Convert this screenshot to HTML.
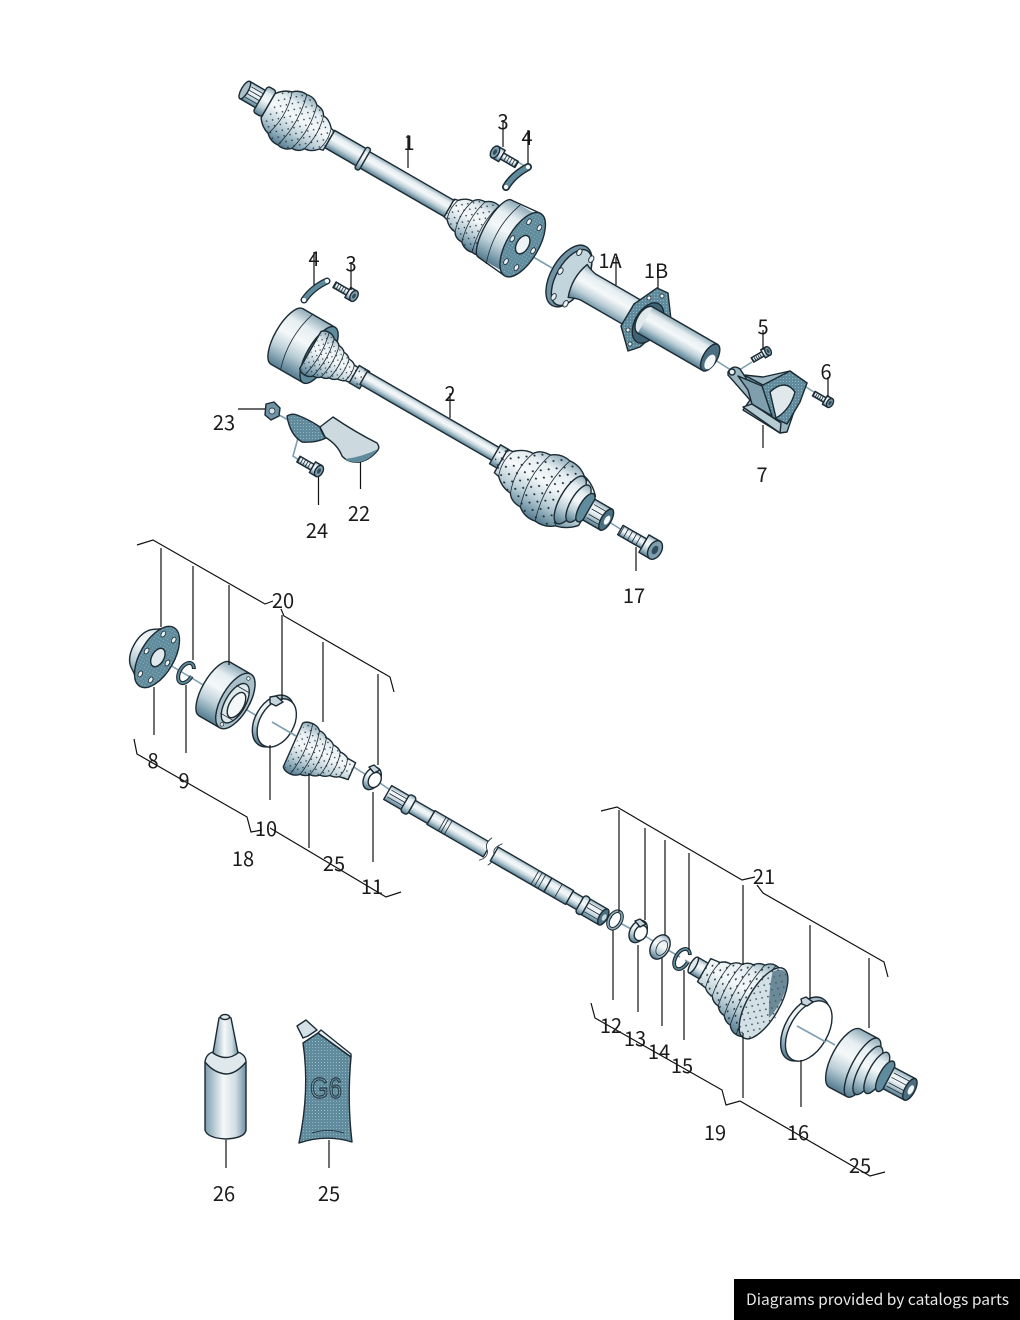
<!DOCTYPE html>
<html><head><meta charset="utf-8"><title>Drive shaft diagram</title>
<style>
html,body{margin:0;padding:0;background:#fff;width:1020px;height:1320px;overflow:hidden}
svg{display:block}
.o{stroke:#1b2a33;stroke-width:1.4;stroke-linejoin:round;vector-effect:non-scaling-stroke}
.r{stroke:#1b2a33;stroke-width:.8;fill:none;vector-effect:non-scaling-stroke}
.l{stroke:#111;stroke-width:1.2;fill:none}
.a{stroke:#7d9fb1;stroke-width:1.6;fill:none}
.t{font-family:"Noto Sans CJK JP","Liberation Sans",sans-serif;font-size:20px;fill:#1a1a1a;text-anchor:middle}
</style></head><body>
<svg width="1020" height="1320" viewBox="0 0 1020 1320" xmlns="http://www.w3.org/2000/svg">
<defs>
<linearGradient id="g" x1="0" y1="0" x2="0" y2="1"><stop offset="0" stop-color="#8fabb8"/><stop offset=".22" stop-color="#e6eef1"/><stop offset=".45" stop-color="#f5f8f9"/><stop offset=".7" stop-color="#bdd0d8"/><stop offset=".9" stop-color="#7598a9"/><stop offset="1" stop-color="#567b8c"/></linearGradient>
<linearGradient id="h" x1="0" y1="0" x2="1" y2="0"><stop offset="0" stop-color="#7c9dae"/><stop offset=".45" stop-color="#f5f8f9"/><stop offset=".75" stop-color="#cfdde3"/><stop offset="1" stop-color="#6d90a2"/></linearGradient>
<pattern id="d" width="9" height="8" patternUnits="userSpaceOnUse"><circle cx="2" cy="2" r=".8" fill="#1c2e38"/><circle cx="6.5" cy="6" r=".8" fill="#1c2e38"/></pattern>
<pattern id="s" width="3" height="3" patternUnits="userSpaceOnUse"><rect width="3" height="3" fill="#5f8b9c"/><rect width="1" height="1" fill="#94b5c1"/></pattern>
<g id="boot">
<path class="o" fill="url(#g)" d="M0,-14 Q6,-22 14,-24 Q20,-30 28,-29 Q36,-31 42,-25 Q50,-25 53,-19 Q60,-19 66,-12 L70,-11 L70,11 L66,12 Q60,19 53,19 Q50,25 42,25 Q36,31 28,29 Q20,30 14,24 Q6,22 0,14 Z"/>
<path fill="url(#d)" d="M4,-18 Q14,-28 28,-29 Q42,-28 53,-19 Q64,-15 70,-11 L70,11 Q60,18 53,19 Q42,28 28,29 Q14,28 4,18 Z"/>
<path class="r" d="M14,-24 Q22,0 14,24 M28,-29 Q36,0 28,29 M42,-25 Q49,0 42,25 M53,-19 Q59,0 53,19 M66,-12 Q70,0 66,12"/>
</g>
<g id="cone">
<path class="o" fill="url(#g)" d="M0,-26 Q3,-30 10,-30 Q16,-30 20,-26 Q26,-26 30,-22 Q36,-22 40,-18 Q46,-18 50,-14 Q56,-14 60,-11 L70,-10 L70,10 L60,11 Q56,14 50,14 Q46,18 40,18 Q36,22 30,22 Q26,26 20,26 Q16,30 10,30 Q3,30 0,26 Z"/>
<path fill="url(#d)" d="M2,-28 L20,-26 L40,-18 L70,-10 L70,10 L40,18 L20,26 L2,28 Z"/>
<path class="r" d="M10,-30 Q18,0 10,30 M20,-26 Q27,0 20,26 M30,-22 Q36,0 30,22 M40,-18 Q45,0 40,18 M50,-14 Q54,0 50,14 M60,-11 Q64,0 60,11"/>
</g>
<g id="bolt">
<rect class="o" x="8" y="-3.5" width="17" height="7" fill="url(#g)"/>
<path class="r" d="M12,-3.5 V3.5 M15,-3.5 V3.5 M18,-3.5 V3.5 M21,-3.5 V3.5 M24,-3.5 V3.5"/>
<rect class="o" x="0" y="-6.5" width="8" height="13" fill="url(#g)"/>
<ellipse class="o" cx="0" cy="0" rx="4" ry="6.5" fill="#7f9fae"/>
<ellipse cx="0" cy="0" rx="1.8" ry="3" fill="#2f4d5b"/>
</g>
<g id="holes" fill="#e8f0f2" stroke="#1b2a33" stroke-width=".8">
<ellipse cx="12" cy="0" rx="2" ry="3.2"/><ellipse cx="6" cy="23" rx="2" ry="3.2"/><ellipse cx="-6" cy="23" rx="2" ry="3.2"/><ellipse cx="-12" cy="0" rx="2" ry="3.2"/><ellipse cx="-6" cy="-23" rx="2" ry="3.2"/><ellipse cx="6" cy="-23" rx="2" ry="3.2"/>
</g>
</defs>
<rect width="1020" height="1320" fill="#fff"/>

<!-- axis lines -->
<path class="a" d="M508,156 L528,168 M530,255 L552,268 M712,358 L737,374 M752,362 L733,374 M803,385 L820,396 M270,410 L292,422 M298,438 L293,456 L308,466 M606,520 L622,530"/>
<path class="a" d="M170,665 L205,686 M225,697 L262,719 M272,722 L296,736 M352,766 L368,776 M380,783 L390,790 M600,912 L612,918 M620,923 L635,931 M645,936 L658,944 M668,950 L680,957 M685,960 L695,966 M755,1005 L776,1018 M800,1025 L835,1045"/>

<!-- shaft 1 -->
<g transform="translate(250,93) rotate(30)">
<rect class="o" x="-6" y="-10" width="20" height="20" fill="url(#g)"/>
<ellipse class="o" cx="-6" cy="0" rx="3.5" ry="10" fill="#a9c0ca"/>
<path class="r" d="M-2,-6 H14 M-2,-2 H14 M-2,2 H14 M-2,6 H14"/>
<rect class="o" x="12" y="-15" width="10" height="30" rx="3" fill="url(#g)"/>
<rect class="o" x="92" y="-10" width="40" height="20" fill="url(#g)"/>
<rect class="o" x="132" y="-9" width="106" height="19" fill="url(#g)"/>
<rect class="o" x="128" y="-12" width="5" height="25" rx="2" fill="url(#g)"/>
<use href="#boot" transform="translate(22,2)"/>
<use href="#boot" transform="translate(300,0) scale(-1,.93)"/>
<ellipse class="o" cx="280" cy="-5" rx="10" ry="33" fill="url(#g)"/>
<rect x="280" y="-38" width="32" height="66" fill="url(#g)"/>
<path class="o" fill="none" d="M280,-38 L312,-41 M280,28 L312,31"/>
<path class="r" d="M290,-38 Q278,-5 290,30"/>
<ellipse class="o" cx="312" cy="-5" rx="16" ry="36" fill="url(#s)"/>
<use href="#holes" transform="translate(312,-5)"/>
<ellipse class="o" cx="312" cy="-5" rx="6" ry="10" fill="#eef4f6"/>
</g>

<!-- 1A 1B -->
<g transform="translate(569,276) rotate(30)">
<ellipse class="o" cx="0" cy="0" rx="18" ry="34" fill="#6f93a5"/>
<ellipse class="o" cx="3" cy="0" rx="15" ry="31" fill="#c3d5dc"/>
<use href="#holes" transform="translate(4,0) scale(1.15,1.12)"/>
<path class="o" fill="url(#g)" d="M10,-19 Q16,-16 22,-15 L90,-15 L90,15 L22,15 Q16,16 10,19 Q3,0 10,-19Z"/>
</g>
<path class="o" fill="url(#s)" d="M657,288 L668,293 L671,320 L640,347 L628,351 L621,326 L634,304 Z"/>
<ellipse class="o" cx="648" cy="323" rx="13" ry="22" fill="#3f6475" transform="rotate(30 648 323)"/>
<g fill="#e8f0f2" stroke="#1b2a33" stroke-width=".8"><circle cx="649" cy="298" r="2"/><circle cx="662" cy="296" r="2"/><circle cx="628" cy="330" r="2"/><circle cx="630" cy="344" r="2"/></g>
<g transform="translate(569,276) rotate(30)">
<ellipse class="o" cx="88" cy="0" rx="8" ry="15" fill="#dfe9ec"/>
<rect x="88" y="-15" width="75" height="30" fill="url(#g)"/>
<path class="o" fill="none" d="M88,-15 H163 M88,15 H163"/>
<ellipse class="o" cx="163" cy="0" rx="7" ry="15" fill="#4a6f80"/>
<ellipse cx="165" cy="4" rx="4.5" ry="8" fill="#f4f8f9"/>
</g>

<!-- bracket 7 -->
<path class="o" fill="#9ab4c0" d="M728,372 Q733,364 740,369 L744,375 L763,377 L790,371 L807,383 L798,400 L787,432 L780,433 L743,410 L750,400 L728,375 Z"/>
<path class="o" fill="url(#s)" d="M744,375 L763,385 L790,371 L807,383 L800,402 L787,424 L770,416 Z"/>
<path class="o" fill="#dfe9ec" d="M770,392 L776,418 Q790,410 795,392 Q785,378 770,392 Z"/>
<path class="o" fill="#b7cbd3" d="M743,407 L752,404 L781,423 L780,433 Z"/>
<path class="o" fill="#7f9fae" d="M738,376 L762,386 L772,416 L752,404 L748,390 Z"/>
<circle class="o" cx="732" cy="372" r="3" fill="#e8f0f2"/>

<!-- shaft 2 -->
<g transform="translate(300,344) rotate(30)">
<ellipse class="o" cx="-15" cy="0" rx="12" ry="32" fill="url(#g)"/>
<rect x="-15" y="-32" width="37" height="64" fill="url(#g)"/>
<path class="o" fill="none" d="M-15,-32 H22 M-15,32 H22"/>
<path class="r" d="M-4,-32 Q-14,0 -4,32"/>
<ellipse class="o" cx="22" cy="0" rx="12" ry="32" fill="#5f8b9c"/>
<g transform="translate(12,0) scale(.76,.82)"><use href="#cone"/></g>
<rect class="o" x="62" y="-11" width="12" height="20" fill="url(#g)"/>
<rect fill="url(#d)" x="62" y="-11" width="12" height="20"/>
<rect class="o" x="72" y="-10" width="155" height="15" fill="url(#g)"/>
<rect class="o" x="224" y="-13" width="10" height="22" fill="url(#g)"/>
<rect fill="url(#d)" x="224" y="-13" width="10" height="22"/>
<use href="#boot" transform="translate(332,1) scale(-1.42,1.2)"/>
<ellipse class="o" cx="312" cy="0" rx="10" ry="27" fill="url(#g)"/>
<ellipse class="o" cx="321" cy="-1" rx="8" ry="21" fill="url(#g)"/>
<ellipse class="o" cx="329" cy="-1" rx="6" ry="16" fill="#5f8b9c"/>
<rect class="o" x="333" y="-13" width="20" height="24" fill="url(#g)"/>
<path class="r" d="M335,-8 H353 M335,-3 H353 M335,3 H353 M335,7 H353"/>
<ellipse class="o" cx="353" cy="-1" rx="5" ry="12" fill="#4a6f80"/>
<ellipse cx="354" cy="-1" rx="2.5" ry="5" fill="#f4f8f9"/>
</g>

<!-- bolts -->
<use href="#bolt" transform="translate(495,152) rotate(30)"/>
<use href="#bolt" transform="translate(354,296) rotate(30) scale(-.9,.9)"/>
<use href="#bolt" transform="translate(768,351) rotate(-30) scale(-.72,.72)"/>
<use href="#bolt" transform="translate(830,403) rotate(30) scale(-.75,.75)"/>
<use href="#bolt" transform="translate(655,550) rotate(30) scale(-1.6,1.55)"/>
<use href="#bolt" transform="translate(319,471) rotate(30) scale(-.95,.95)"/>

<!-- straps -->
<path d="M506,187 Q513,175 528,167" fill="none" stroke="#1b2a33" stroke-width="8" stroke-linecap="round"/>
<path d="M506,187 Q513,175 528,167" fill="none" stroke="#5f8b9c" stroke-width="5" stroke-linecap="round"/>
<path d="M304,300 Q312,288 327,281" fill="none" stroke="#1b2a33" stroke-width="7" stroke-linecap="round"/>
<path d="M304,300 Q312,288 327,281" fill="none" stroke="#5f8b9c" stroke-width="4.5" stroke-linecap="round"/>
<circle cx="506" cy="187" r="2" fill="#fff"/><circle cx="528" cy="167" r="2" fill="#fff"/><circle cx="304" cy="300" r="2" fill="#fff"/><circle cx="327" cy="281" r="2" fill="#fff"/>

<!-- nut 23 -->
<path class="o" fill="#6f93a5" d="M266,404 L274,402 L280,408 L279,416 L271,420 L265,415 Z"/>
<circle cx="272" cy="411" r="3" fill="#d3e0e5" stroke="#1b2a33" stroke-width=".7"/>

<!-- shield 22 -->
<path class="o" fill="url(#s)" d="M287,416 Q292,413 297,415 Q310,420 320,427 Q322,434 326,438 Q316,443 302,442 Q290,435 287,416Z"/>
<path class="o" fill="#ccdae0" d="M320,427 L333,417 Q355,432 377,443 Q380,447 378,450 Q370,460 360,462 Q348,463 342,456 Q338,445 325,437 Z"/>
<path fill="#5f8b9c" d="M345,459 Q362,457 378,449 Q370,460 360,462 Q350,463 345,459Z"/>

<!-- hub 8 -->
<g transform="translate(157,657) rotate(30)">
<path class="o" fill="url(#g)" d="M0,-34 L-14,-24 Q-26,-18 -26,0 Q-26,18 -14,24 L0,34 Z"/>
<ellipse class="o" cx="0" cy="0" rx="17" ry="34" fill="url(#s)"/>
<use href="#holes"/>
<ellipse class="o" cx="1" cy="0" rx="6" ry="10" fill="#dfe9ec"/>
</g>
<!-- circlip 9 -->
<g transform="translate(186,673) rotate(30)"><ellipse cx="0" cy="0" rx="6.5" ry="11" fill="none" stroke="#1b2a33" stroke-width="4" stroke-dasharray="48 8"/><ellipse cx="0" cy="0" rx="6.5" ry="11" fill="none" stroke="#5f8b9c" stroke-width="1.8" stroke-dasharray="47 9"/></g>
<!-- joint 10 -->
<g transform="translate(225,695) rotate(30)">
<ellipse class="o" cx="-12" cy="0" rx="12" ry="31" fill="url(#g)"/>
<rect x="-12" y="-31" width="24" height="62" fill="url(#g)"/>
<path class="o" fill="none" d="M-12,-31 H12 M-12,31 H12"/>
<ellipse class="o" cx="12" cy="0" rx="14" ry="31" fill="#a9c0ca"/>
<ellipse class="o" cx="13" cy="2" rx="10" ry="22" fill="#dfe9ec"/>
<ellipse class="o" cx="15" cy="3" rx="7" ry="14" fill="#f4f8f9"/>
<path class="r" d="M5,-14 H20 M5,18 H20"/>
<g fill="#e8f0f2" stroke="#1b2a33" stroke-width=".7"><circle cx="12" cy="-26" r="1.8"/><circle cx="12" cy="27" r="1.8"/></g>
</g>
<!-- clamp 10 -->
<g transform="translate(275,722) rotate(30)">
<ellipse class="o" cx="-2" cy="0" rx="18" ry="28" fill="url(#g)"/>
<ellipse class="o" cx="2" cy="0" rx="17" ry="26" fill="#fff"/>
</g>
<path class="o" fill="#c7d6dc" d="M270,697 L276,696 L283,702 L276,706 L270,703 Z"/>
<path class="a" d="M272,722 L296,736"/>
<!-- boot 25 left -->
<g transform="translate(293,745) rotate(24)"><use href="#cone" transform="scale(.92,.92)"/></g>
<!-- clamp 11 -->
<g transform="translate(373,779) rotate(30)">
<ellipse class="o" cx="-1" cy="0" rx="8" ry="12" fill="url(#g)"/>
<ellipse class="o" cx="2" cy="0" rx="6" ry="8" fill="#fff"/>
</g>
<path class="o" fill="#c7d6dc" d="M369,767 L374,765 L380,770 L374,773 Z"/>

<!-- middle shaft -->
<g transform="translate(392,795) rotate(30)">
<rect class="o" x="-5" y="-8" width="22" height="16" fill="url(#g)"/>
<path class="r" d="M-3,-4 H16 M-3,0 H16 M-3,4 H16"/>
<rect class="o" x="15" y="-10" width="8" height="20" rx="3" fill="url(#g)"/>
<rect class="o" x="23" y="-7" width="22" height="14" fill="url(#g)"/>
<rect class="o" x="45" y="-8" width="65" height="16" fill="url(#g)"/>
<path class="r" d="M58,-8 V8 M61,-8 V8 M65,-8 V8"/>
<path d="M108,-13 Q104,-4 110,0 Q115,6 108,13 L118,13 Q122,6 118,0 Q113,-4 120,-13Z" fill="#fff"/>
<path class="r" d="M108,-13 Q104,-4 110,0 Q115,6 108,13 M118,13 Q122,6 118,0 Q113,-4 120,-13"/>
<rect class="o" x="118" y="-8" width="62" height="16" fill="url(#g)"/>
<rect class="o" x="180" y="-8" width="25" height="16" fill="url(#g)"/>
<path class="r" d="M165,-8 V8 M169,-8 V8 M173,-8 V8 M192,-8 V8"/>
<rect class="o" x="205" y="-7" width="12" height="14" fill="url(#g)"/>
<rect class="o" x="217" y="-10" width="7" height="20" rx="3" fill="url(#g)"/>
<rect class="o" x="224" y="-9" width="20" height="18" fill="url(#g)"/>
<path class="r" d="M225,-5 H244 M225,0 H244 M225,5 H244"/>
<ellipse class="o" cx="244" cy="0" rx="4" ry="9" fill="#4a6f80"/>
<ellipse cx="245" cy="0" rx="2" ry="3.5" fill="#c7d6dc"/>
</g>

<!-- small parts right -->
<g transform="translate(615,920) rotate(30)"><ellipse cx="0" cy="0" rx="6" ry="9.5" fill="none" stroke="#1b2a33" stroke-width="3.6"/><ellipse cx="0" cy="0" rx="6" ry="9.5" fill="none" stroke="#8fabb8" stroke-width="1.6"/></g>
<g transform="translate(639,932) rotate(30)"><ellipse class="o" cx="-1" cy="0" rx="8" ry="12" fill="url(#g)"/><ellipse class="o" cx="2" cy="0" rx="6" ry="8" fill="#fff"/></g>
<path class="o" fill="#c7d6dc" d="M635,921 L640,919 L646,924 L640,927 Z"/>
<g transform="translate(660,947) rotate(30)"><ellipse class="o" cx="0" cy="0" rx="9" ry="13" fill="url(#g)"/><ellipse class="r" cx="2" cy="0" rx="5" ry="8" fill="#f4f8f9"/></g>
<g transform="translate(682,959) rotate(30)"><ellipse cx="0" cy="0" rx="6.5" ry="11" fill="none" stroke="#1b2a33" stroke-width="3.8" stroke-dasharray="48 8"/><ellipse cx="0" cy="0" rx="6.5" ry="11" fill="none" stroke="#5f8b9c" stroke-width="1.6" stroke-dasharray="47 9"/></g>

<!-- boot 19 -->
<g transform="translate(695,966) rotate(30)">
<rect class="o" x="-2" y="-9" width="18" height="18" fill="url(#g)"/>
<ellipse class="o" cx="-2" cy="0" rx="3" ry="9" fill="#dfe9ec"/>
<use href="#cone" transform="translate(80,-1) scale(-1,1.33)"/>
<ellipse class="o" cx="78" cy="-2" rx="16" ry="40" fill="#d3e0e5"/>
<ellipse cx="78" cy="-2" rx="16" ry="40" fill="url(#d)"/>
<path fill="#3f6475" opacity=".7" d="M70,-34 Q83,-50 90,-26 Q94,-8 90,8 Q76,-15 70,-34Z"/>
</g>
<!-- ring 16 -->
<g transform="translate(807,1030) rotate(30)">
<ellipse class="o" cx="-2" cy="0" rx="20" ry="35" fill="url(#g)"/>
<ellipse class="o" cx="2" cy="0" rx="19" ry="33" fill="#fff"/>
</g>
<path class="o" fill="#c7d6dc" d="M801,999 L806,997 L813,1002 L807,1006 L802,1004 Z"/>
<path class="a" d="M797,1026 L826,1042"/>
<!-- joint right -->
<g transform="translate(852,1062) rotate(28)">
<ellipse class="o" cx="-8" cy="0" rx="13" ry="33" fill="url(#g)"/>
<rect x="-8" y="-33" width="20" height="66" fill="url(#g)"/>
<path class="o" fill="none" d="M-8,-33 H12 M-8,33 H12"/>
<ellipse class="o" cx="12" cy="0" rx="11" ry="33" fill="url(#g)"/>
<ellipse class="o" cx="18" cy="0" rx="9" ry="27" fill="url(#g)"/>
<ellipse class="o" cx="27" cy="-2" rx="8" ry="23" fill="url(#g)"/>
<ellipse class="o" cx="36" cy="-3" rx="6" ry="17" fill="#5f8b9c"/>
<rect class="o" x="40" y="-15" width="24" height="24" fill="url(#g)"/>
<path class="r" d="M42,-10 H62 M42,-5 H62 M42,1 H62 M42,5 H62"/>
<ellipse class="o" cx="64" cy="-3" rx="5" ry="12" fill="#4a6f80"/>
<ellipse cx="65" cy="-3" rx="2.5" ry="5" fill="#f4f8f9"/>
</g>

<!-- tube 26 -->
<path class="o" fill="url(#h)" d="M205,1062 V1130 Q207,1138 226,1139 Q245,1138 246,1130 V1062 Z"/>
<path class="o" fill="#dfe9ec" d="M205,1062 Q206,1054 213,1052 Q226,1060 238,1052 Q246,1055 246,1062 Q236,1074 226,1074 Q214,1073 205,1062Z"/>
<path class="o" fill="url(#h)" d="M213,1053 L219,1018 Q225,1013 231,1018 L238,1053 Q226,1062 213,1053 Z"/>
<ellipse class="o" cx="225" cy="1017" rx="4.5" ry="2.5" fill="#dfe9ec"/>
<!-- tube G6 -->
<path class="o" fill="url(#s)" d="M303,1043 L318,1033 L351,1057 Q347,1100 352,1142 Q326,1134 299,1143 Q310,1090 303,1043 Z"/>
<path class="o" fill="#e8f0f2" d="M318,1033 L321,1030 L351,1054 L351,1057 Z"/>
<path class="o" fill="#d3e0e5" d="M297,1026 L306,1020 L317,1030 L308,1036 L303,1038 Z"/>
<text x="326" y="1098" style="font-family:'Liberation Sans',sans-serif;font-size:29px;fill:none;stroke:#1b2a33;stroke-width:.9;text-anchor:middle" textLength="32" lengthAdjust="spacingAndGlyphs">G6</text>
<path class="r" d="M312,1133 Q328,1128 344,1133"/>

<!-- leaders -->
<path class="l" d="M408,135 V168 M503,120 V147 M528,130 V163 M314,252 V285 M351,262 V290 M616,257 V285 M658,265 V288 M763,330 V350 M828,377 V397 M763,425 V448 M450,393 V418 M238,409 H265 M318.5,477 V505 M360.5,462 V489 M636,547 V571"/>
<path class="l" d="M161,548 V627 M154,687 V735 M193,566 V660 M186,685 V753 M229,585 V665 M270,745 V800 M282,615 V700 M323,642 V722 M309,773 V848 M378,674 V765 M373,792 V862"/>
<path class="l" d="M619,810 V912 M645,828 V920 M665,840 V935 M689,853 V950 M613,930 V1000 M638,945 V1012 M662,958 V1026 M684,970 V1040 M743,885 V965 M743,1033 V1098 M810,925 V998 M801,1060 V1107 M869,958 V1028 M226,1140 V1168 M329,1140 V1168"/>
<!-- brackets -->
<path class="l" stroke-width="1" d="M137,545 L153,540 L265,604 L273,601 M281,609 L284,616 L390,677 L394,692"/>
<path class="l" stroke-width="1" d="M134,739 L137,754 L247,817 L251,832 L262,830 M270,828 L386,897 L401,892"/>
<path class="l" stroke-width="1" d="M601,811 L617,807 L742,880 L755,877 M757,885 L763,893 L884,962 L888,977"/>
<path class="l" stroke-width="1" d="M591,1003 L595,1018 L722,1090 L726,1105 L740,1101 L870,1176 L885,1172"/>

<!-- labels -->
<text class="t" x="409" y="150">1</text><text class="t" x="503" y="129">3</text><text class="t" x="527" y="145">4</text>
<text class="t" x="314" y="266">4</text><text class="t" x="351" y="271">3</text><text class="t" x="610" y="268">1A</text><text class="t" x="656" y="278">1B</text>
<text class="t" x="763" y="334">5</text><text class="t" x="826" y="379">6</text><text class="t" x="762" y="482">7</text><text class="t" x="450" y="401">2</text>
<text class="t" x="224" y="430">23</text><text class="t" x="359" y="521">22</text><text class="t" x="317" y="538">24</text><text class="t" x="634" y="603">17</text>
<text class="t" x="283" y="608">20</text><text class="t" x="153" y="768">8</text><text class="t" x="184" y="788">9</text><text class="t" x="266" y="836">10</text>
<text class="t" x="243" y="866">18</text><text class="t" x="334" y="871">25</text><text class="t" x="372" y="894">11</text><text class="t" x="764" y="884">21</text>
<text class="t" x="611" y="1033">12</text><text class="t" x="635" y="1046">13</text><text class="t" x="659" y="1059">14</text><text class="t" x="682" y="1073">15</text>
<text class="t" x="715" y="1140">19</text><text class="t" x="798" y="1140">16</text><text class="t" x="860" y="1173">25</text>
<text class="t" x="224" y="1201">26</text><text class="t" x="329" y="1201">25</text>

<!-- footer -->
<rect x="734" y="1279" width="286" height="41" fill="#000"/>
<text x="746" y="1305" style="font-family:'Noto Sans CJK JP','Liberation Sans',sans-serif;font-size:15.5px;fill:#e8e8e8" textLength="263" lengthAdjust="spacingAndGlyphs">Diagrams provided by catalogs parts</text>
</svg>
</body></html>
